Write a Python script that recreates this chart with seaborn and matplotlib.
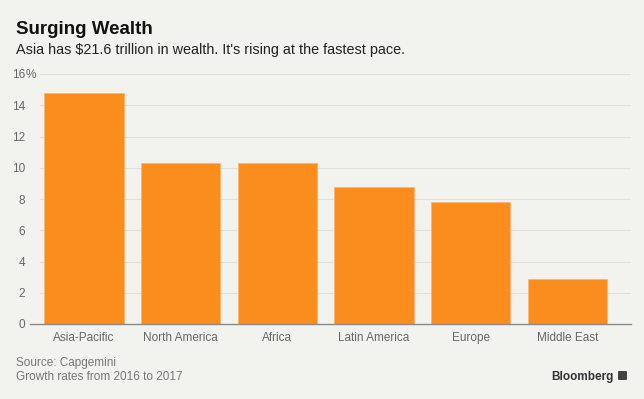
import matplotlib
matplotlib.use("Agg")
import matplotlib.pyplot as plt
import seaborn as sns
import pandas as pd
from matplotlib.patches import FancyBboxPatch

regions = ["Asia-Pacific", "North America", "Africa", "Latin America", "Europe", "Middle East"]
growth = [14.8, 10.3, 10.3, 8.8, 7.8, 2.9]
yticks = [0, 2, 4, 6, 8, 10, 12, 14, 16]
ytick_labels = ["0", "2", "4", "6", "8", "10", "12", "14", "16"]

df = pd.DataFrame({"region": regions, "growth": growth})

sns.set_theme(style="white")
plt.rcParams["font.family"] = ["Liberation Sans", "DejaVu Sans"]

BG = "#f2f2ee"
ORANGE = "#fa8d1e"
GRID = "#e1e1dc"
TICK = "#666666"

fig = plt.figure(figsize=(6.44, 3.99), dpi=100, facecolor=BG)
W, H = 644, 399
ax = fig.add_axes([30 / W, 1 - 324 / H, 601 / W, 250 / H])
ax.set_facecolor(BG)

sns.barplot(data=df, x="region", y="growth", color=ORANGE, saturation=1,
            width=0.82, ax=ax, zorder=3, edgecolor="#fbb36a", linewidth=0.4)

ax.set_xlim(-0.56, 5.66)
ax.set_ylim(0, 16)
ax.set_xlabel("")
ax.set_ylabel("")

for s in ["top", "right", "left"]:
    ax.spines[s].set_visible(False)
ax.spines["bottom"].set_color("#8a8a8a")
ax.spines["bottom"].set_linewidth(1.0)
ax.spines["bottom"].set_zorder(4)

# gridlines
for y in yticks[1:]:
    ax.axhline(y, xmin=10 / 601, xmax=1, color=GRID, linewidth=0.8, zorder=1)

ax.set_yticks(yticks)
ax.set_yticklabels(ytick_labels)
ax.tick_params(axis="y", length=0, pad=3.6, labelsize=8.5, labelcolor=TICK)
ax.tick_params(axis="x", length=4, width=0.8, color="#8a8a8a", direction="out",
               pad=1.5, labelsize=8.5, labelcolor=TICK)
ax.annotate("%", xy=(0, 16), xycoords=("axes fraction", "data"),
            xytext=(-4, 0), textcoords="offset pixels", ha="left",
            va="center_baseline", fontsize=8.5, color=TICK)

# titles
fig.text(16 / W, 1 - 34 / H, "Surging Wealth", fontsize=13.5, fontweight="bold",
         color="#111111", ha="left", va="baseline")
fig.text(16 / W, 1 - 54 / H, "Asia has $21.6 trillion in wealth. It's rising at the fastest pace.",
         fontsize=10.4, color="#222222", ha="left", va="baseline")

# footer
fig.text(16 / W, 1 - 366 / H, "Source: Capgemini", fontsize=8.5, color="#777777",
         ha="left", va="baseline")
fig.text(16 / W, 1 - 380 / H, "Growth rates from 2016 to 2017", fontsize=8.5,
         color="#777777", ha="left", va="baseline")
fig.text(614 / W, 1 - 380 / H, "Bloomberg", fontsize=8.5, fontweight="bold",
         color="#333333", ha="right", va="baseline")
logo = FancyBboxPatch((618 / W, 1 - 380 / H), 9 / W, 9 / H, boxstyle="round,pad=0,rounding_size=0.002",
                      transform=fig.transFigure, facecolor="#444444", edgecolor="none")
fig.patches.append(logo)

fig.savefig("out.png", dpi=100, facecolor=BG)
